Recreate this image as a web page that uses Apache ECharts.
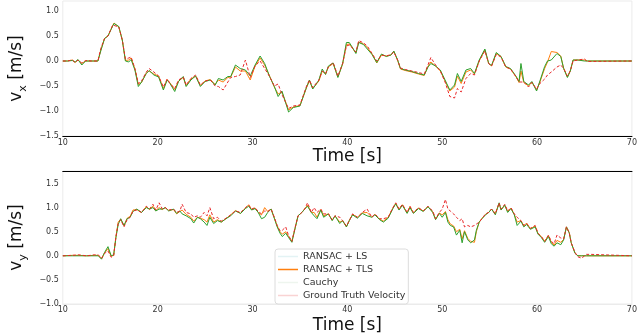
<!DOCTYPE html>
<html>
<head>
<meta charset="utf-8">
<script src="https://cdn.jsdelivr.net/npm/echarts@6/dist/echarts.min.js"></script>
<style>
  body { margin: 0; background: #fff; }
  #chart { width: 640px; height: 335px; }
</style>
</head>
<body>
<div id="chart"></div>
<script>
// time stamps (s)
const tX = [
  10, 10.5, 11, 11.3, 11.6, 12, 12.4, 13, 13.7, 14.0,
  14.4, 14.76, 15.26, 15.4, 15.9, 16.27, 16.6, 16.95, 17.2, 17.4,
  17.6, 17.96, 18.3, 18.8, 19.1, 19.6, 20.1, 20.6, 21.0, 21.3,
  21.8, 22.2, 22.7, 23.0, 23.5, 24.0, 24.5, 25.0, 25.55, 26.06,
  26.4, 26.9, 27.4, 27.7, 28.2, 28.7, 29.25, 29.76, 30.27, 30.8,
  31.28, 31.8, 32.3, 32.7, 33.1, 33.8, 34.3, 35.0, 35.7, 36.0,
  36.35, 37.0, 37.35, 37.7, 38.0, 38.5, 39.0, 39.5, 39.9, 40.2,
  40.6, 40.9, 41.2, 41.7, 42.1, 42.6, 43.1, 43.6, 44.1, 44.6,
  44.9, 45.3, 45.6, 46.1, 46.8, 47.5, 48.1, 48.5, 48.8, 49.3,
  49.8, 50.3, 50.8, 51.3, 51.6, 52.0, 52.5, 53.0, 53.4, 53.9,
  54.5, 54.9, 55.2, 55.7, 56.2, 56.7, 57.2, 57.8, 58.1, 58.3,
  58.6, 59.1, 59.45, 59.95, 60.3, 60.8, 61.1, 61.5, 62.1, 62.5,
  62.8, 63.2, 63.5, 63.8, 64.3, 65.0, 65.3, 70
]
const gtX = [
  0, 0, 0.02, -0.03, 0.02, -0.04, 0.01, 0, 0, 0.25,
  0.45, 0.5, 0.72, 0.76, 0.68, 0.42, 0.04, 0.06, 0.08, 0.05,
  -0.15, -0.45, -0.4, -0.22, -0.15, -0.22, -0.3, -0.52, -0.36, -0.45,
  -0.55, -0.38, -0.32, -0.48, -0.35, -0.28, -0.48, -0.4, -0.38, -0.5,
  -0.51, -0.58, -0.42, -0.33, -0.31, -0.28, 0.02, -0.33, -0.1, 0.0,
  -0.15, -0.31, -0.5, -0.46, -0.67, -0.95, -0.9, -0.88, -0.5, -0.38,
  -0.53, -0.38, -0.2, -0.25, -0.12, -0.03, -0.3, -0.05, 0.3, 0.32,
  0.25, 0.18, 0.41, 0.36, 0.3, 0.15, 0.0, 0.12, 0.1, 0.13,
  0.18, 0.02, -0.14, -0.17, -0.2, -0.23, -0.26, -0.08, 0.07, -0.08,
  -0.2, -0.42, -0.71, -0.74, -0.55, -0.62, -0.35, -0.25, -0.28, 0.0,
  0.2, -0.05, -0.1, 0.13, 0.08, -0.12, -0.16, -0.32, -0.42, -0.42,
  -0.42, -0.52, -0.43, -0.56, -0.45, -0.36, -0.28, -0.22, -0.12, -0.08,
  -0.15, -0.3, -0.2, 0.0, 0.02, 0.04, -0.01, 0
]
const cauchyX = [
  0, 0, 0.01, -0.02, 0.03, -0.08, 0, 0, 0, 0.2,
  0.45, 0.5, 0.7, 0.75, 0.69, 0.42, 0.0, -0.02, 0.03, 0.04,
  -0.18, -0.51, -0.42, -0.25, -0.19, -0.28, -0.32, -0.58, -0.38, -0.45,
  -0.61, -0.41, -0.31, -0.51, -0.38, -0.3, -0.51, -0.41, -0.38, -0.48,
  -0.35, -0.38, -0.31, -0.31, -0.08, -0.15, -0.18, -0.3, -0.08, 0.1,
  -0.05, -0.31, -0.51, -0.71, -0.6, -1.02, -0.93, -0.9, -0.52, -0.38,
  -0.56, -0.38, -0.16, -0.27, -0.1, -0.04, -0.33, -0.05, 0.37, 0.37,
  0.25, 0.15, 0.37, 0.33, 0.24, 0.13, -0.03, 0.14, 0.09, 0.12,
  0.2, 0.02, -0.15, -0.18, -0.21, -0.25, -0.28, -0.12, -0.05, -0.1,
  -0.18, -0.38, -0.58, -0.48, -0.25, -0.41, -0.18, -0.15, -0.25, 0.02,
  0.24, -0.05, -0.09, 0.17, 0.09, -0.11, -0.15, -0.31, -0.41, -0.05,
  -0.41, -0.48, -0.41, -0.6, -0.4, -0.11, 0.0, 0.02, 0.15, 0.09,
  -0.15, -0.33, -0.2, 0.02, 0.02, 0.0, 0.0, 0
]
const tlsX = [
  0, 0, 0.02, -0.03, 0.02, -0.05, 0, 0, 0, 0.22,
  0.45, 0.5, 0.71, 0.76, 0.68, 0.42, 0.01, 0.02, 0.06, 0.05,
  -0.16, -0.47, -0.43, -0.24, -0.2, -0.26, -0.3, -0.55, -0.37, -0.44,
  -0.57, -0.4, -0.33, -0.49, -0.36, -0.3, -0.49, -0.4, -0.37, -0.47,
  -0.38, -0.42, -0.33, -0.32, -0.12, -0.2, -0.2, -0.38, -0.1, 0.06,
  -0.08, -0.3, -0.52, -0.66, -0.62, -0.98, -0.92, -0.89, -0.53, -0.4,
  -0.55, -0.4, -0.2, -0.26, -0.12, -0.05, -0.32, -0.06, 0.33, 0.34,
  0.24, 0.16, 0.38, 0.34, 0.27, 0.14, -0.04, 0.12, 0.1, 0.12,
  0.19, 0.01, -0.16, -0.19, -0.22, -0.26, -0.29, -0.11, -0.02, -0.1,
  -0.2, -0.4, -0.6, -0.52, -0.3, -0.45, -0.22, -0.18, -0.26, 0.0,
  0.22, -0.05, -0.1, 0.15, 0.09, -0.12, -0.16, -0.32, -0.43, -0.2,
  -0.43, -0.5, -0.42, -0.58, -0.42, -0.15, -0.02, 0.19, 0.17, 0.1,
  -0.14, -0.32, -0.2, 0.02, 0.02, 0.02, 0.0, 0
]

// time stamps (s)
const tY = [
  10, 11, 11.7, 12.5, 13.3, 13.74, 14.08, 14.4, 14.76, 15.1,
  15.36, 15.6, 15.84, 16.1, 16.45, 16.78, 17.1, 17.4, 17.8, 18.3,
  18.8, 19.14, 19.5, 19.8, 20.15, 20.5, 20.8, 21.16, 21.67, 22.0,
  22.34, 22.58, 23.0, 23.5, 23.8, 24.2, 24.5, 24.9, 25.2, 25.5,
  25.9, 26.3, 26.7, 27.2, 27.7, 28.2, 28.75, 29.25, 29.6, 29.9,
  30.27, 30.6, 30.95, 31.28, 31.6, 31.96, 32.3, 32.6, 32.9, 33.14,
  33.5, 33.8, 34.15, 34.5, 34.8, 35.2, 35.5, 35.8, 36.2, 36.5,
  36.8, 37.2, 37.5, 38.0, 38.4, 38.7, 39.2, 39.5, 39.9, 40.2,
  40.55, 41.06, 41.57, 42.08, 42.58, 42.9, 43.4, 43.8, 44.3, 44.8,
  45.1, 45.45, 45.8, 46.3, 46.6, 46.96, 47.5, 48.0, 48.5, 49.0,
  49.3, 49.7, 50.0, 50.34, 50.6, 50.85, 51.2, 51.5, 51.85, 52.1,
  52.35, 52.7, 53.0, 53.4, 53.6, 53.9, 54.2, 54.56, 54.9, 55.2,
  55.6, 56.0, 56.2, 56.6, 56.9, 57.25, 57.6, 57.9, 58.3, 58.6,
  58.9, 59.3, 59.8, 60.1, 60.45, 60.8, 61.2, 61.5, 61.8, 62.1,
  62.5, 62.8, 63.1, 63.4, 63.6, 64.0, 64.3, 64.7, 65.2, 65.7,
  70
]
const gtY = [
  0, 0.01, 0.02, 0, 0.02, 0.02, -0.05, 0.05, 0.1, -0.03,
  0, 0.4, 0.67, 0.75, 0.6, 0.75, 0.8, 0.93, 0.95, 0.9,
  1.03, 0.97, 1.07, 0.95, 1.1, 0.97, 1.0, 0.95, 0.97, 0.9,
  0.93, 1.07, 0.9, 0.87, 0.8, 0.83, 0.8, 0.9, 0.83, 1.0,
  0.77, 0.8, 0.72, 0.78, 0.85, 0.93, 0.9, 1.0, 1.05, 0.97,
  1.0, 0.92, 0.87, 0.93, 0.92, 0.97, 0.8, 0.63, 0.52, 0.53,
  0.6, 0.42, 0.3, 0.6, 0.83, 0.9, 0.97, 1.1, 0.9, 1.0,
  0.9, 0.97, 0.87, 0.87, 0.75, 0.83, 0.8, 0.73, 0.62, 0.73,
  0.87, 0.8, 0.9, 0.97, 0.8, 0.87, 0.77, 0.77, 0.8, 1.0,
  1.1, 0.97, 1.07, 0.9, 1.03, 0.9, 1.0, 0.93, 1.03, 0.93,
  0.77, 0.9, 0.97, 1.17, 0.97, 0.93, 0.87, 0.8, 0.73, 0.77,
  0.6, 0.63, 0.6, 0.63, 0.6, 0.7, 0.77, 0.87, 0.9, 0.97,
  0.87, 1.1, 0.97, 1.07, 0.93, 1.0, 0.87, 0.8, 0.73, 0.63,
  0.67, 0.57, 0.63, 0.47, 0.4, 0.3, 0.43, 0.3, 0.25, 0.43,
  0.37, 0.35, 0.6, 0.47, 0.27, 0.07, -0.02, -0.05, 0.03, 0.03,
  0
]
const cauchyY = [
  0, 0, 0, 0, 0, 0, -0.07, 0.07, 0.19, 0,
  0.02, 0.38, 0.65, 0.77, 0.63, 0.77, 0.8, 0.92, 0.97, 0.9,
  1.0, 0.97, 1.0, 0.93, 0.97, 0.97, 1.0, 0.93, 0.97, 0.88,
  0.93, 0.87, 0.83, 0.77, 0.68, 0.8, 0.77, 0.7, 0.63, 0.8,
  0.67, 0.73, 0.7, 0.77, 0.83, 0.93, 0.88, 0.98, 1.03, 0.95,
  0.98, 0.9, 0.77, 0.8, 0.9, 0.97, 0.78, 0.6, 0.47, 0.4,
  0.47, 0.38, 0.28, 0.58, 0.83, 0.9, 0.97, 1.03, 0.9, 0.83,
  0.77, 0.95, 0.8, 0.87, 0.73, 0.83, 0.67, 0.73, 0.6, 0.73,
  0.85, 0.78, 0.88, 0.83, 0.8, 0.85, 0.75, 0.7, 0.78, 0.98,
  1.08, 0.95, 1.05, 0.88, 1.0, 0.88, 0.98, 0.92, 1.02, 0.9,
  0.75, 0.88, 0.8, 0.9, 0.7, 0.63, 0.6, 0.43, 0.53, 0.27,
  0.5, 0.33, 0.27, 0.33, 0.53, 0.7, 0.77, 0.85, 0.9, 0.97,
  0.85, 1.1, 0.95, 1.05, 0.9, 0.98, 0.85, 0.63, 0.72, 0.6,
  0.65, 0.55, 0.6, 0.45, 0.38, 0.28, 0.4, 0.25, 0.2, 0.27,
  0.23, 0.33, 0.6, 0.47, 0.27, 0.05, 0, 0, 0, 0,
  0
]
const tlsY = [
  0, 0.01, 0.01, 0, 0.01, 0.01, -0.06, 0.06, 0.15, -0.01,
  0.01, 0.4, 0.7, 0.76, 0.62, 0.78, 0.82, 0.95, 0.96, 0.9,
  1.02, 0.96, 1.03, 0.94, 1.0, 0.96, 1.0, 0.94, 0.96, 0.87,
  0.92, 0.95, 0.86, 0.8, 0.72, 0.8, 0.78, 0.75, 0.7, 0.85,
  0.7, 0.75, 0.7, 0.77, 0.85, 0.94, 0.88, 0.99, 1.06, 0.96,
  0.99, 0.9, 0.85, 1.0, 0.92, 0.97, 0.78, 0.62, 0.5, 0.45,
  0.5, 0.4, 0.3, 0.58, 0.83, 0.9, 0.97, 1.05, 0.9, 0.9,
  0.8, 0.96, 0.83, 0.87, 0.74, 0.83, 0.7, 0.73, 0.6, 0.73,
  0.86, 0.8, 0.89, 0.9, 0.8, 0.86, 0.76, 0.72, 0.8, 0.99,
  1.09, 0.96, 1.06, 0.89, 1.02, 0.89, 0.99, 0.93, 1.02, 0.91,
  0.76, 0.89, 0.85, 0.92, 0.75, 0.66, 0.62, 0.5, 0.55, 0.35,
  0.52, 0.36, 0.3, 0.28, 0.5, 0.7, 0.78, 0.86, 0.9, 0.97,
  0.88, 1.08, 0.96, 1.05, 0.92, 0.99, 0.86, 0.7, 0.73, 0.62,
  0.68, 0.56, 0.62, 0.46, 0.4, 0.3, 0.42, 0.28, 0.22, 0.32,
  0.28, 0.34, 0.6, 0.48, 0.27, 0.06, 0, 0, 0, 0,
  0
]

const seriesNames = ['RANSAC + LS', 'RANSAC + TLS', 'Cauchy', 'Ground Truth Velocity']
const legendColors = ['#e3f3f4', '#ff7f0e', '#eef5ee', '#f9d3d3']

const FONT = 'DejaVu Sans'
const frame = '#ebebeb'

function pairs(ts, vs) {
  return ts.map((t, i) => [t, vs[i]])
}

function tickFmt(v) {
  return (v < 0 ? '\u2212' : '') + Math.abs(v).toFixed(1)
}

function xAxisFor(grid, lineColor, margin, gap) {
  return {
    type: 'value',
    gridIndex: grid,
    min: 10,
    max: 70,
    interval: 10,
    name: 'Time [s]',
    nameLocation: 'middle',
    nameGap: gap,
    nameTextStyle: { fontFamily: FONT, fontSize: 17, color: '#111' },
    axisLine: { onZero: false, lineStyle: { color: lineColor, width: 1.2 } },
    axisTick: { show: false },
    splitLine: { show: false },
    axisLabel: { fontFamily: FONT, fontSize: 8, color: '#333', margin: margin },
  }
}

function yAxisFor(grid, min, max, sub) {
  return {
    type: 'value',
    gridIndex: grid,
    min: min,
    max: max,
    interval: 0.5,
    name: '{v|v}{s|' + sub + '} [m/s]',
    nameLocation: 'middle',
    nameGap: 20,
    nameTextStyle: {
      fontFamily: FONT,
      fontSize: 17,
      color: '#111',
      rich: {
        v: { fontFamily: FONT, fontSize: 17, color: '#111', lineHeight: 24 },
        s: { fontFamily: FONT, fontSize: 11, color: '#111', lineHeight: 11, verticalAlign: 'bottom' },
      },
    },
    axisLine: { show: false },
    axisTick: { show: false },
    splitLine: { show: false },
    axisLabel: {
      fontFamily: FONT,
      fontSize: 8,
      color: '#333',
      margin: 4,
      showMaxLabel: false,
      formatter: tickFmt,
    },
  }
}

function lineSeries(name, xi, data, color, dashed) {
  return {
    name: name,
    type: 'line',
    xAxisIndex: xi,
    yAxisIndex: xi === 0 ? 0 : 1,
    data: data,
    symbol: 'none',
    animation: false,
    lineStyle: { color: color, width: 1, type: dashed ? [3, 2] : 'solid' },
    itemStyle: { color: color },
  }
}

const chart = echarts.init(document.getElementById('chart'), null, { renderer: 'canvas' })

chart.setOption({
  animation: false,
  grid: [
    { left: 43, right: 4, top: 1, bottom: 199, show: true, borderColor: frame, borderWidth: 1 },
    { left: 43, right: 4, top: 171, bottom: 26.5, show: true, borderColor: frame, borderWidth: 1 },
  ],
  xAxis: [
    xAxisFor(0, '#000', 3, 11),
    xAxisFor(1, frame, 2, 13),
    {
      type: 'value',
      gridIndex: 1,
      position: 'top',
      min: 10,
      max: 70,
      axisLine: { onZero: false, lineStyle: { color: '#000', width: 1.2 } },
      axisTick: { show: false },
      axisLabel: { show: false },
      splitLine: { show: false },
    },
  ],
  yAxis: [yAxisFor(0, -1.5, 1.2, 'x'), yAxisFor(1, -1.0, 1.76, 'y')],
  legend: {
    orient: 'vertical',
    left: 275,
    top: 249,
    padding: [2, 3, 3, 3],
    icon: 'rect',
    itemWidth: 20,
    itemHeight: 1.5,
    itemGap: 2,
    backgroundColor: '#fff',
    borderColor: '#dcdcdc',
    borderWidth: 1,
    borderRadius: 3,
    textStyle: { fontFamily: FONT, fontSize: 9.5, color: '#333', lineHeight: 11 },
    data: seriesNames.map((n, i) => ({
      name: n,
      itemStyle: { color: legendColors[i], borderWidth: 0 },
    })),
  },
  series: [
    lineSeries(seriesNames[0], 0, [], legendColors[0], false),
    lineSeries(seriesNames[1], 0, pairs(tX, tlsX), '#ff7f0e', false),
    lineSeries(seriesNames[2], 0, pairs(tX, cauchyX), '#2ca02c', false),
    lineSeries(seriesNames[3], 0, pairs(tX, gtX), '#e8292b', true),
    lineSeries(seriesNames[0], 1, [], legendColors[0], false),
    lineSeries(seriesNames[1], 1, pairs(tY, tlsY), '#ff7f0e', false),
    lineSeries(seriesNames[2], 1, pairs(tY, cauchyY), '#2ca02c', false),
    lineSeries(seriesNames[3], 1, pairs(tY, gtY), '#e8292b', true),
  ],
})
</script>
</body>
</html>
